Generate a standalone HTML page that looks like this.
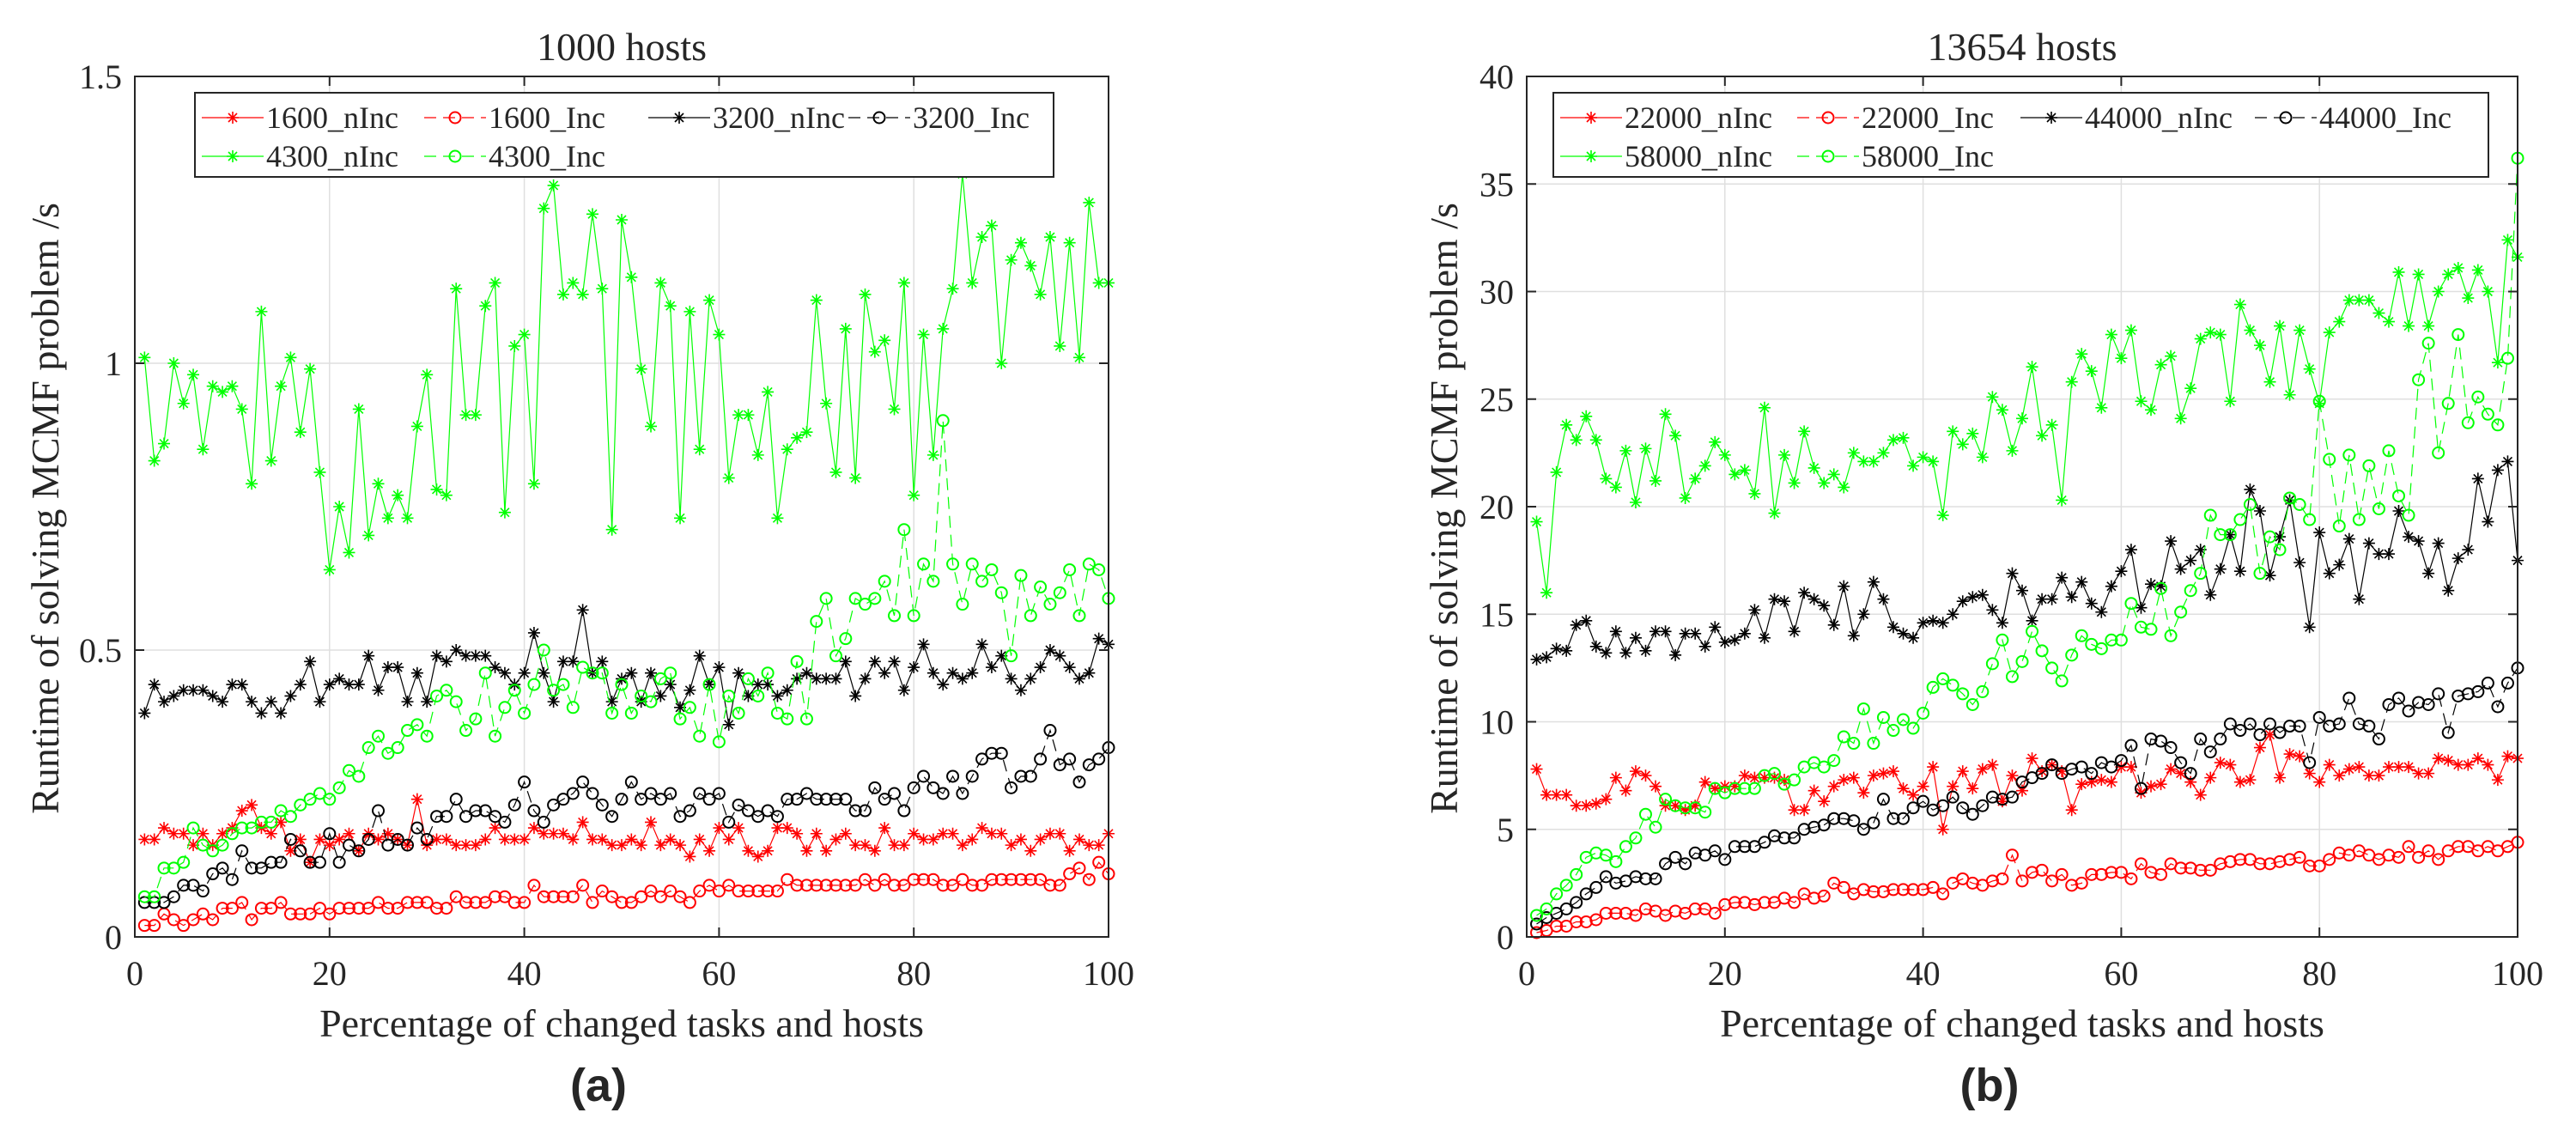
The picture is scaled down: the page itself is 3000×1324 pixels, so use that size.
<!DOCTYPE html>
<html><head><meta charset="utf-8"><style>
html,body{margin:0;padding:0;background:#fff}
svg{display:block}
text{font-family:"Liberation Serif",serif;fill:#262626}
</style></head><body>
<svg id="fig" width="3000" height="1324" viewBox="0 0 3000 1324" xmlns="http://www.w3.org/2000/svg"></svg>
<script>
const xCats = Array.from({length:100},(_,i)=>i+1);
// Panel (a) data
const a1600n=[.17,.17,.19,.18,.18,.16,.18,.16,.18,.19,.22,.23,.19,.18,.20,.15,.17,.13,.17,.16,.17,.18,.15,.18,.17,.18,.17,.16,.24,.16,.17,.17,.16,.16,.16,.17,.19,.17,.17,.17,.19,.18,.18,.18,.17,.20,.17,.17,.16,.16,.17,.16,.20,.16,.17,.16,.14,.17,.15,.19,.17,.19,.15,.14,.15,.19,.19,.18,.15,.18,.15,.17,.18,.16,.16,.15,.19,.16,.16,.18,.17,.17,.18,.18,.16,.17,.19,.18,.18,.16,.17,.15,.17,.18,.18,.15,.17,.16,.16,.18];
const a1600i=[.02,.02,.04,.03,.02,.03,.04,.03,.05,.05,.06,.03,.05,.05,.06,.04,.04,.04,.05,.04,.05,.05,.05,.05,.06,.05,.05,.06,.06,.06,.05,.05,.07,.06,.06,.06,.07,.07,.06,.06,.09,.07,.07,.07,.07,.09,.06,.08,.07,.06,.06,.07,.08,.07,.08,.07,.06,.08,.09,.08,.09,.08,.08,.08,.08,.08,.10,.09,.09,.09,.09,.09,.09,.09,.10,.09,.10,.09,.09,.10,.10,.10,.09,.09,.10,.09,.09,.10,.10,.10,.10,.10,.10,.09,.09,.11,.12,.10,.13,.11];
const a3200n=[.39,.44,.41,.42,.43,.43,.43,.42,.41,.44,.44,.41,.39,.41,.39,.42,.44,.48,.41,.44,.45,.44,.44,.49,.43,.47,.47,.41,.46,.41,.49,.48,.50,.49,.49,.49,.47,.46,.44,.46,.53,.46,.41,.48,.48,.57,.46,.48,.41,.45,.46,.41,.46,.42,.44,.40,.43,.49,.44,.47,.37,.46,.42,.44,.44,.42,.43,.45,.46,.45,.45,.45,.48,.42,.45,.48,.46,.48,.43,.47,.51,.46,.44,.46,.45,.46,.51,.47,.49,.45,.43,.45,.47,.50,.49,.47,.45,.46,.52,.51];
const a3200i=[.06,.06,.06,.07,.09,.09,.08,.11,.12,.10,.15,.12,.12,.13,.13,.17,.15,.13,.13,.18,.13,.16,.15,.17,.22,.16,.17,.16,.19,.17,.21,.21,.24,.21,.22,.22,.21,.20,.23,.27,.22,.20,.23,.24,.25,.27,.25,.23,.21,.24,.27,.24,.25,.24,.25,.21,.22,.25,.24,.25,.20,.23,.22,.21,.22,.21,.24,.24,.25,.24,.24,.24,.24,.22,.22,.26,.24,.25,.22,.26,.28,.26,.25,.28,.25,.28,.31,.32,.32,.26,.28,.28,.31,.36,.30,.31,.27,.30,.31,.33];
const a4300n=[1.01,.83,.86,1.0,.93,.98,.85,.96,.95,.96,.92,.79,1.09,.83,.96,1.01,.88,.99,.81,.64,.75,.67,.92,.70,.79,.73,.77,.73,.89,.98,.78,.77,1.13,.91,.91,1.10,1.14,.74,1.03,1.05,.79,1.27,1.31,1.12,1.14,1.12,1.26,1.13,.71,1.25,1.15,.99,.89,1.14,1.10,.73,1.09,.85,1.11,1.05,.80,.91,.91,.84,.95,.73,.85,.87,.88,1.11,.93,.81,1.06,.80,1.12,1.02,1.04,.92,1.14,.77,1.05,.84,1.06,1.13,1.33,1.14,1.22,1.24,1.0,1.18,1.21,1.17,1.12,1.22,1.03,1.21,1.01,1.28,1.14,1.14];
const a4300i=[.07,.07,.12,.12,.13,.19,.16,.15,.16,.18,.19,.19,.20,.20,.22,.21,.23,.24,.25,.24,.26,.29,.28,.33,.35,.32,.33,.36,.37,.35,.42,.43,.41,.36,.38,.46,.35,.40,.43,.39,.44,.50,.43,.44,.40,.47,.46,.46,.39,.44,.39,.42,.41,.45,.46,.38,.40,.35,.44,.34,.42,.39,.45,.42,.46,.39,.38,.48,.38,.55,.59,.49,.52,.59,.58,.59,.62,.56,.71,.56,.65,.62,.90,.65,.58,.65,.62,.64,.60,.49,.63,.56,.61,.58,.60,.64,.56,.65,.64,.59];
// Panel (b) data
const b22n=[7.8,6.6,6.6,6.6,6.1,6.1,6.2,6.4,7.4,6.8,7.7,7.5,7.0,6.1,6.1,5.9,6.1,7.2,6.9,7.0,7.0,7.5,7.4,7.4,7.4,7.3,5.9,5.9,6.8,6.3,7.0,7.3,7.4,6.7,7.5,7.6,7.7,6.9,6.6,7.0,7.9,5.0,7.0,7.7,6.9,7.8,8.0,6.3,7.5,6.8,8.3,7.7,8.0,7.7,5.9,7.1,7.2,7.3,7.2,7.9,7.9,6.7,7.0,7.1,7.8,7.6,7.2,6.6,7.4,8.1,8.0,7.2,7.3,8.8,9.4,7.4,8.5,8.4,7.6,7.2,8.0,7.5,7.8,7.9,7.5,7.5,7.9,7.9,7.9,7.6,7.6,8.3,8.2,8.0,8.0,8.3,8.0,7.3,8.4,8.3];
const b22i=[0.2,0.3,0.5,0.5,0.7,0.7,0.8,1.1,1.1,1.1,1.0,1.3,1.2,1.0,1.2,1.1,1.3,1.3,1.1,1.5,1.6,1.6,1.5,1.6,1.6,1.8,1.6,2.0,1.8,1.9,2.5,2.3,2.0,2.2,2.1,2.1,2.2,2.2,2.2,2.2,2.3,2.0,2.5,2.7,2.5,2.4,2.6,2.7,3.8,2.6,3.0,3.1,2.6,2.9,2.4,2.5,2.9,2.9,3.0,3.0,2.7,3.4,3.0,2.9,3.4,3.2,3.2,3.1,3.1,3.4,3.5,3.6,3.6,3.4,3.4,3.5,3.6,3.7,3.3,3.3,3.6,3.9,3.8,4.0,3.8,3.6,3.8,3.7,4.2,3.7,4.0,3.6,4.0,4.2,4.2,4.0,4.2,4.0,4.2,4.4];
const b44n=[12.9,13.0,13.4,13.3,14.5,14.7,13.5,13.2,14.2,13.2,13.9,13.3,14.2,14.2,13.1,14.1,14.1,13.5,14.4,13.7,13.8,14.1,15.2,13.9,15.7,15.6,14.2,16.0,15.7,15.4,14.5,16.3,14.0,15.0,16.5,15.7,14.4,14.1,13.9,14.6,14.7,14.6,15.0,15.6,15.8,15.9,15.2,14.6,16.9,16.1,14.7,15.7,15.7,16.7,15.8,16.5,15.5,15.1,16.3,17.0,18.0,15.3,16.4,16.3,18.4,17.1,17.5,18.0,15.9,17.1,18.7,17.0,20.8,19.8,16.8,18.6,20.3,17.4,14.4,18.8,16.9,17.3,18.5,15.7,18.3,17.8,17.8,19.8,18.6,18.4,16.9,18.3,16.1,17.6,18.0,21.3,19.3,21.7,22.1,17.5];
const b44i=[0.6,0.9,1.1,1.3,1.6,2.0,2.3,2.8,2.5,2.6,2.8,2.7,2.7,3.4,3.7,3.4,3.9,3.8,4.0,3.6,4.2,4.2,4.2,4.4,4.7,4.6,4.6,5.0,5.1,5.2,5.5,5.5,5.4,5.0,5.3,6.4,5.5,5.5,6.0,6.3,5.9,6.1,6.5,6.0,5.7,6.1,6.5,6.4,6.5,7.2,7.4,7.6,8.0,7.6,7.8,7.9,7.6,8.1,7.9,8.2,8.9,6.9,9.2,9.1,8.8,8.1,7.6,9.2,8.6,9.2,9.9,9.6,9.9,9.4,9.9,9.5,9.8,9.8,8.1,10.2,9.8,9.9,11.1,9.9,9.8,9.2,10.8,11.1,10.5,10.9,10.8,11.3,9.5,11.2,11.3,11.4,11.8,10.7,11.8,12.5];
const b58n=[19.3,16,21.6,23.8,23.1,24.2,23.1,21.3,20.9,22.6,20.2,22.7,21.2,24.3,23.3,20.4,21.3,21.9,23.0,22.4,21.5,21.7,20.6,24.6,19.7,22.4,21.1,23.5,21.8,21.1,21.5,20.9,22.5,22.1,22.1,22.5,23.1,23.2,21.9,22.3,22.1,19.6,23.5,22.9,23.4,22.3,25.1,24.5,22.6,24.1,26.5,23.3,23.8,20.3,25.8,27.1,26.3,24.6,28.0,26.9,28.2,24.9,24.5,26.6,27.0,24.1,25.5,27.8,28.1,28.0,24.9,29.4,28.2,27.5,25.8,28.4,25.2,28.2,26.4,24.8,28.1,28.6,29.6,29.6,29.6,29.0,28.6,30.9,28.4,30.8,28.4,30.0,30.8,31.1,29.7,31.0,30.0,26.7,32.4,31.6];
const b58i=[1.0,1.3,2.0,2.4,2.9,3.7,3.9,3.8,3.5,4.2,4.6,5.7,5.1,6.4,6.1,6.0,6.0,5.8,6.9,6.7,6.9,6.9,6.9,7.5,7.6,7.1,7.3,7.9,8.1,7.9,8.2,9.3,9.0,10.6,9.0,10.2,9.6,10.1,9.7,10.4,11.6,12.0,11.7,11.3,10.8,11.4,12.7,13.8,12.1,12.8,14.2,13.3,12.5,11.9,13.1,14.0,13.6,13.4,13.8,13.8,15.5,14.4,14.3,16.2,14.0,15.1,16.1,16.9,19.6,18.7,18.7,19.4,20.1,16.9,18.6,18.0,20.4,20.1,19.4,24.9,22.2,19.1,22.4,19.4,21.9,19.9,22.6,20.5,19.6,25.9,27.6,22.5,24.8,28.0,23.9,25.1,24.3,23.8,26.9,36.2];
const aYTicks=["0","0.5","1","1.5"];
const bYTicks=["0","5","10","15","20","25","30","35","40"];
const xTicks=["0","20","40","60","80","100"];

const NS="http://www.w3.org/2000/svg";
const svg=document.getElementById('fig');
function mk(tag,attrs,parent){const e=document.createElementNS(NS,tag);for(const k in attrs)e.setAttribute(k,attrs[k]);(parent||svg).appendChild(e);return e;}
function txt(s,attrs,parent){const e=mk('text',attrs,parent);e.textContent=s;return e;}

function star(g,x,y,col){
  const r=7,d=5;
  const p=mk('path',{d:`M${x-r},${y}H${x+r}M${x},${y-r}V${y+r}M${x-d},${y-d}L${x+d},${y+d}M${x-d},${y+d}L${x+d},${y-d}`,stroke:col,'stroke-width':1.6,fill:'none'},g);
  
  
}
function circ(g,x,y,col){
  const c=mk('circle',{cx:x,cy:y,r:6.5,stroke:col,'stroke-width':2,fill:'none'},g);
  
  
}

function panel(o){
  const {L,R,T,B,ymax,yTicks,series,title,label,legend,id}=o;
  const g=mk('g',{});
  
  
  const X=v=>L+(v/100)*(R-L);
  const Y=v=>B-(v/ymax)*(B-T);
  xTicks.forEach(t=>{const v=+t;if(v>0&&v<100){const l=mk('line',{x1:X(v),x2:X(v),y1:T,y2:B,stroke:'#dfdfdf','stroke-width':1.5},g);}});
  yTicks.forEach(t=>{const v=+t;if(v>0&&v<ymax){const l=mk('line',{x1:L,x2:R,y1:Y(v),y2:Y(v),stroke:'#dfdfdf','stroke-width':1.5},g);}});
  series.forEach(s=>{
    const sg=mk('g',{},g);
    
    
    const pts=s.data.map((v,i)=>X(xCats[i]).toFixed(1)+','+Y(v).toFixed(1)).join(' ');
    const pl=mk('polyline',{points:pts,fill:'none',stroke:s.col,'stroke-width':1.2},sg);
    if(s.inc)pl.setAttribute('stroke-dasharray','14,8');
    
    
    s.data.forEach((v,i)=>{ if(s.inc)circ(sg,X(xCats[i]),Y(v),s.col); else star(sg,X(xCats[i]),Y(v),s.col); });
  });
  const box=mk('rect',{x:L,y:T,width:R-L,height:B-T,fill:'none',stroke:'#262626','stroke-width':2},g);
  
  
  xTicks.forEach(t=>{const x=X(+t);
    mk('path',{d:`M${x},${B}v-11M${x},${T}v11`,stroke:'#262626','stroke-width':2},g);
    const e=txt(t,{x:x,y:1147,'font-size':40,'text-anchor':'middle'},g);
    });
  yTicks.forEach(t=>{const y=Y(+t);
    mk('path',{d:`M${L},${y}h11M${R},${y}h-11`,stroke:'#262626','stroke-width':2},g);
    const e=txt(t,{x:L-15,y:y+14,'font-size':40,'text-anchor':'end'},g);
    });
  const cx=(L+R)/2;
  let e=txt(title,{x:cx,y:70,'font-size':46,'text-anchor':'middle'},g);
  
  e=txt('Percentage of changed tasks and hosts',{x:cx,y:1207,'font-size':46,'text-anchor':'middle'},g);
  
  e=txt('Runtime of solving MCMF problem /s',{x:0,y:0,'font-size':46,'text-anchor':'middle',transform:`translate(${o.ylx},592) rotate(-90)`},g);
  
  e=txt(label,{x:o.labx,y:1282,'font-size':54,'font-weight':'bold','text-anchor':'middle',style:'font-family:"Liberation Sans",sans-serif'},g);
  
  const lg=mk('g',{},g);
  
  
  mk('rect',{x:legend.x,y:108,width:legend.w,height:98,fill:'#fff',stroke:'#262626','stroke-width':2},lg);
  legend.cols.forEach((cx0,k)=>{
    const s=series[k];const row=k<4?0:1;const col=k%4;
    const x0=legend.cols[col];const y=row?182:137;
    const ent=mk('g',{},lg);
    
    
    const ln=mk('line',{x1:x0,x2:x0+72,y1:y,y2:y,stroke:s.col,'stroke-width':1.3},ent);
    if(s.inc)ln.setAttribute('stroke-dasharray','14,8');
    if(s.inc)circ(ent,x0+36,y,s.col);else star(ent,x0+36,y,s.col);
    txt(s.name,{x:x0+75,y:y+12,'font-size':36},ent);
  });
}
const RED='#ff0000',GRN='#00ff00',BLK='#000000';
panel({id:'panel-a',L:157,R:1291,T:89,B:1091,ymax:1.5,yTicks:aYTicks,title:'1000 hosts',label:'(a)',ylx:68,labx:697,
  series:[{name:'1600_nInc',data:a1600n,col:RED},{name:'1600_Inc',data:a1600i,col:RED,inc:1},{name:'3200_nInc',data:a3200n,col:BLK},{name:'3200_Inc',data:a3200i,col:BLK,inc:1},{name:'4300_nInc',data:a4300n,col:GRN},{name:'4300_Inc',data:a4300i,col:GRN,inc:1}],
  legend:{x:227,w:1000,cols:[235,494,755,988,235,494]}});
panel({id:'panel-b',L:1778,R:2932,T:89,B:1091,ymax:40,yTicks:bYTicks,title:'13654 hosts',label:'(b)',ylx:1697,labx:2317,
  series:[{name:'22000_nInc',data:b22n,col:RED},{name:'22000_Inc',data:b22i,col:RED,inc:1},{name:'44000_nInc',data:b44n,col:BLK},{name:'44000_Inc',data:b44i,col:BLK,inc:1},{name:'58000_nInc',data:b58n,col:GRN},{name:'58000_Inc',data:b58i,col:GRN,inc:1}],
  legend:{x:1809,w:1089,cols:[1817,2093,2353,2626,1817,2093]}});
</script>
</body></html>
